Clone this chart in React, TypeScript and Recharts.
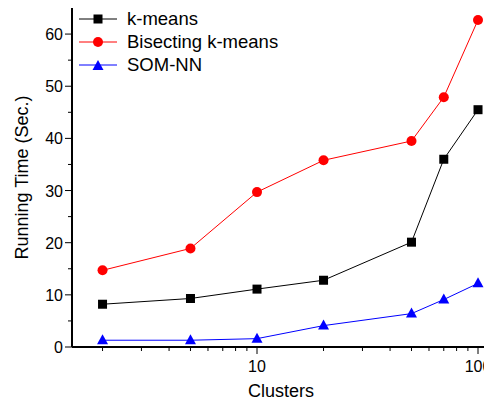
import React from "react";
import { LineChart, Line, XAxis, YAxis } from "recharts";

// Clusters (log x) and running times (sec.)
const clusters = [2, 5, 10, 20, 50, 70, 100];
const kMeans = [8.2, 9.3, 11.1, 12.8, 20.1, 36.0, 45.5];
const bisecting = [14.7, 18.9, 29.7, 35.8, 39.5, 47.9, 62.7];
const somNN = [1.3, 1.3, 1.6, 4.1, 6.4, 9.1, 12.2];

const xTicks = [2, 3, 4, 5, 6, 7, 8, 9, 10, 20, 30, 40, 50, 60, 70, 80, 90, 100];
const xLabels = [10, 100];
const yTicks = [0, 5, 10, 15, 20, 25, 30, 35, 40, 45, 50, 55, 60];

const data = clusters.map((c, i) => ({
  c,
  kMeans: kMeans[i],
  bisecting: bisecting[i],
  somNN: somNN[i],
}));

const FONT = "'Liberation Sans', Arial, sans-serif";

const SERIES = [
  { key: "kMeans", name: "k-means", color: "#000000", shape: "square" },
  { key: "bisecting", name: "Bisecting k-means", color: "#FF0000", shape: "circle" },
  { key: "somNN", name: "SOM-NN", color: "#0000FF", shape: "triangle" },
];

function Marker({ cx, cy, shape, color }: any) {
  if (cx == null || cy == null) return null;
  if (shape === "square")
    return <rect x={cx - 4.5} y={cy - 4.5} width={9} height={9} fill={color} />;
  if (shape === "circle") return <circle cx={cx} cy={cy} r={5} fill={color} />;
  return (
    <polygon
      points={`${cx},${cy - 6} ${cx - 5.5},${cy + 4} ${cx + 5.5},${cy + 4}`}
      fill={color}
    />
  );
}

function BottomTick({ x, y, payload }: any) {
  const major = xLabels.includes(payload.value);
  return (
    <g>
      <line x1={x} x2={x} y1={y} y2={y + (major ? 7 : 4)} stroke="#000" />
      {major && (
        <text x={x} y={y + 25} textAnchor="middle" fontSize={16} fontFamily={FONT} fill="#000">
          {payload.value}
        </text>
      )}
    </g>
  );
}

function TopTick({ x, y, payload }: any) {
  const major = xLabels.includes(payload.value);
  return <line x1={x} x2={x} y1={y} y2={y + (major ? 7 : 4)} stroke="#000" />;
}

function LeftTick({ x, y, payload }: any) {
  const major = payload.value % 10 === 0;
  return (
    <g>
      <line x1={x - (major ? 7 : 4)} x2={x} y1={y} y2={y} stroke="#000" />
      {major && (
        <text x={x - 9} y={y + 6} textAnchor="end" fontSize={16} fontFamily={FONT} fill="#000">
          {payload.value}
        </text>
      )}
    </g>
  );
}

function LegendBox() {
  return (
    <div
      style={{
        position: "absolute",
        left: 77,
        top: 7,
        fontFamily: FONT,
        fontSize: 18.5,
        lineHeight: "23px",
        color: "#000",
      }}
    >
      {SERIES.map((s) => (
        <div key={s.key} style={{ display: "flex", alignItems: "center", height: 23 }}>
          <svg width={44} height={14} style={{ marginRight: 6 }}>
            <line x1={2} x2={40} y1={7} y2={7} stroke={s.color} />
            <Marker cx={21} cy={s.shape === "triangle" ? 8 : 7} shape={s.shape} color={s.color} />
          </svg>
          <span>{s.name}</span>
        </div>
      ))}
    </div>
  );
}

export default function App() {
  return (
    <div
      style={{
        position: "fixed",
        left: 0,
        top: 0,
        width: 484,
        height: 402,
        overflow: "hidden",
        background: "#fff",
      }}
    >
      <LineChart
        width={500}
        height={402}
        data={data}
        margin={{ top: 8, right: 10, bottom: 0, left: 0 }}
      >
        <XAxis
          dataKey="c"
          type="number"
          scale="log"
          domain={[1.455, 113.3]}
          allowDataOverflow
          ticks={xTicks}
          interval={0}
          height={55}
          tickSize={0}
          tickMargin={0}
          tickLine={false}
          axisLine={{ stroke: "#000", strokeWidth: 2 }}
          tick={<BottomTick />}
          label={{
            value: "Clusters",
            position: "insideBottom",
            offset: 5,
            style: { fontFamily: FONT, fontSize: 18, fill: "#000" },
          }}
        />
        <XAxis
          xAxisId="top"
          dataKey="c"
          type="number"
          scale="log"
          orientation="top"
          domain={[1.455, 113.3]}
          allowDataOverflow
          ticks={xTicks}
          interval={0}
          height={0}
          tickSize={0}
          tickMargin={0}
          tickLine={false}
          axisLine={{ stroke: "#000", strokeWidth: 2 }}
          tick={<TopTick />}
        />
        <YAxis
          type="number"
          domain={[0, 65]}
          ticks={yTicks}
          interval={0}
          width={72}
          tickSize={0}
          tickMargin={0}
          tickLine={false}
          axisLine={{ stroke: "#000", strokeWidth: 2 }}
          tick={<LeftTick />}
          label={{
            value: "Running Time (Sec.)",
            angle: -90,
            position: "insideLeft",
            offset: 22,
            style: { fontFamily: FONT, fontSize: 18, fill: "#000", textAnchor: "middle" },
          }}
        />
        {SERIES.map((s) => (
          <Line
            key={s.key}
            dataKey={s.key}
            name={s.name}
            stroke={s.color}
            strokeWidth={1}
            isAnimationActive={false}
            dot={(p: any) => (
              <Marker key={`${s.key}-${p.index}`} cx={p.cx} cy={p.cy} shape={s.shape} color={s.color} />
            )}
            activeDot={false}
          />
        ))}
      </LineChart>
      <LegendBox />
    </div>
  );
}
